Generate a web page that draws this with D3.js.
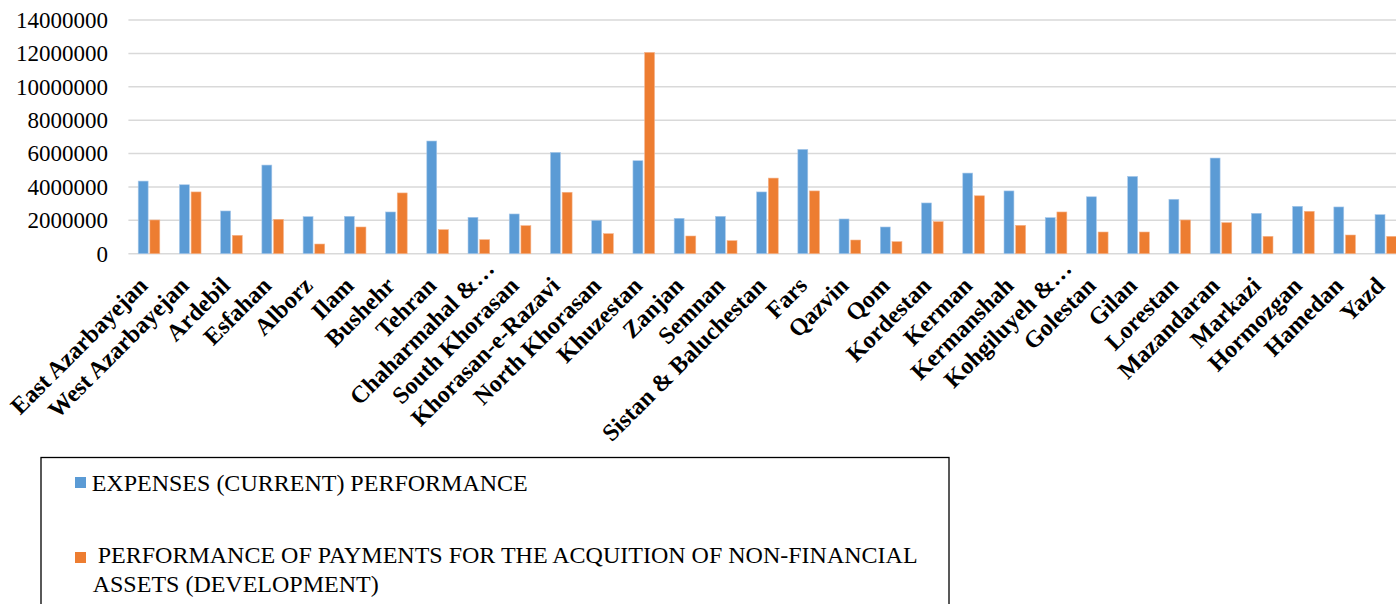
<!DOCTYPE html>
<html><head><meta charset="utf-8">
<script src="https://cdn.jsdelivr.net/npm/d3@7"></script>
<style>body{margin:0;background:#fff;overflow:hidden} svg{display:block}
svg text{font-family:"Liberation Serif","Times New Roman",serif !important;fill:#000}</style>
</head><body>
<svg id="chart" width="1396" height="604"></svg>
<script>
const categories = ["East Azarbayejan","West Azarbayejan","Ardebil","Esfahan","Alborz","Ilam","Bushehr","Tehran","Chaharmahal &…","South Khorasan","Khorasan-e-Razavi","North Khorasan","Khuzestan","Zanjan","Semnan","Sistan & Baluchestan","Fars","Qazvin","Qom","Kordestan","Kerman","Kermanshah","Kohgiluyeh &…","Golestan","Gilan","Lorestan","Mazandaran","Markazi","Hormozgan","Hamedan","Yazd"];
const expenses = [4350000,4130000,2560000,5310000,2220000,2240000,2500000,6750000,2180000,2380000,6070000,2000000,5570000,2120000,2240000,3700000,6250000,2080000,1600000,3040000,4830000,3760000,2160000,3410000,4630000,3260000,5730000,2420000,2840000,2800000,2340000];
const development = [2020000,3700000,1100000,2060000,580000,1600000,3640000,1440000,840000,1680000,3680000,1200000,12060000,1060000,780000,4530000,3760000,820000,720000,1920000,3470000,1700000,2500000,1300000,1300000,2020000,1860000,1040000,2540000,1120000,1040000];
const yTicks = [0,2000000,4000000,6000000,8000000,10000000,12000000,14000000];
const seriesNames = ["EXPENSES (CURRENT) PERFORMANCE","PERFORMANCE OF PAYMENTS FOR THE ACQUITION OF NON-FINANCIAL","ASSETS (DEVELOPMENT)"];
const colors = ["#5b9bd5","#ed7d31"];

const svg = d3.select("#chart");
const y = d3.scaleLinear().domain([0,14000000]).range([253.7,20]);
const x0 = d3.scaleBand().domain(categories).range([128.4,1406.5]);
const x1 = d3.scaleBand().domain(["e","d"]).range([9.8,31.4]).paddingInner(0.15);

// gridlines
svg.append("g").selectAll("line").data(yTicks).join("line")
  .attr("x1",128.4).attr("x2",1406.5)
  .attr("y1",d=>y(d)).attr("y2",d=>y(d))
  .attr("stroke","#d9d9d9").attr("stroke-width",1.5);

// y axis labels
const yAxis = d3.axisLeft(y).tickValues(yTicks).tickSize(0).tickPadding(0).tickFormat(d3.format("d"));
const ya = svg.append("g").attr("transform","translate(108,0)").call(yAxis);
ya.select(".domain").remove();
ya.selectAll("text").style("font-size","23px");

// bars
const groups = svg.append("g").selectAll("g").data(categories).join("g")
  .attr("transform",d=>`translate(${x0(d)},0)`);
groups.append("rect").attr("x",x1("e")).attr("width",x1.bandwidth())
  .attr("y",(d,i)=>y(expenses[i])).attr("height",(d,i)=>y(0)-y(expenses[i]))
  .attr("fill",colors[0]).attr("stroke","#a9c9ea").attr("stroke-width",0.6);
groups.append("rect").attr("x",x1("d")).attr("width",x1.bandwidth())
  .attr("y",(d,i)=>y(development[i])).attr("height",(d,i)=>y(0)-y(development[i]))
  .attr("fill",colors[1]).attr("stroke","#f5b48c").attr("stroke-width",0.6);

// x labels
const xl = svg.append("g");
categories.forEach(c=>{
  const cx = x0(c)+x0.bandwidth()/2;
  const g = xl.append("g").attr("transform",`translate(${cx},287) rotate(-45)`);
  const trunc = c.endsWith("…");
  g.append("text").attr("text-anchor","end")
    .style("font-weight","bold").style("font-size","24px")
    .text(trunc ? c.slice(0,-1) : c);
  if(trunc){
    g.append("text").attr("text-anchor","start")
      .style("font-weight","bold").style("font-size","24px")
      .text("…");
  }
});

// legend
const lg = svg.append("g");
lg.append("rect").attr("x",41).attr("y",457.5).attr("width",908).attr("height",200)
  .attr("fill","none").attr("stroke","#000").attr("stroke-width",1.3);
lg.append("rect").attr("x",75).attr("y",477).attr("width",11).attr("height",11).attr("fill",colors[0]);
lg.append("rect").attr("x",75).attr("y",552).attr("width",11).attr("height",11).attr("fill",colors[1]);
lg.append("text").attr("x",91.7).attr("y",490.5).style("font-size","24px").text(seriesNames[0]);
lg.append("text").attr("x",97.7).attr("y",563.3).style("font-size","24px").text(seriesNames[1]);
lg.append("text").attr("x",92.7).attr("y",591.5).style("font-size","24px").text(seriesNames[2]);
</script>
</body></html>
